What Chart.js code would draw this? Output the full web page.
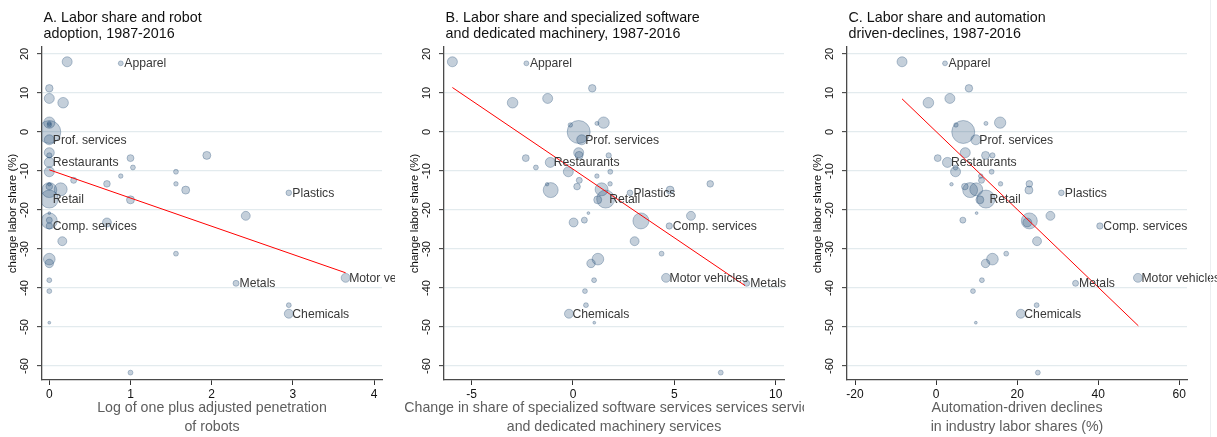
<!DOCTYPE html>
<html><head><meta charset="utf-8">
<script src="https://cdn.jsdelivr.net/npm/chart.js@4.4.1/dist/chart.umd.min.js"></script>
<style>
html,body{margin:0;padding:0;background:#fff;width:1217px;height:437px;overflow:hidden}
#wrap{position:relative;width:1217px;height:437px;background:#fff}
canvas{position:absolute;top:0}
#edge{position:absolute;left:1210px;top:0;width:1px;height:437px;background:#eceff1}
</style></head><body>
<div id="wrap">
<canvas id="cA" width="395" height="437" style="left:0px"></canvas>
<canvas id="cB" width="406" height="437" style="left:398px"></canvas>
<canvas id="cC" width="412" height="437" style="left:805px"></canvas>
<div id="edge"></div>
</div>
<script>
// ---------- DATA ----------
const industries = ["","Apparel","","","","","","","","Prof. services","","","","","Restaurants","","","","","","","","","","","","","Plastics","Retail","","","","","","","Comp. services","","","","","Motor vehicles","","Metals","","","Chemicals","",""];
// change in labor share (%), same for all panels
const laborShareChange = [18.0,17.6,11.2,8.6,7.5,2.4,2.2,1.8,0.0,-2.0,-5.3,-6.0,-6.0,-6.7,-7.8,-9.1,-10.2,-10.2,-11.3,-12.4,-14.0,-13.3,-13.3,-13.4,-14.9,-14.7,-14.9,-15.6,-17.2,-17.4,-20.8,-21.5,-22.8,-23.2,-22.6,-24.1,-28.0,-31.2,-32.6,-33.7,-37.4,-38.0,-38.8,-40.8,-44.4,-46.6,-48.9,-61.7];
// industry weights (bubble area)
const weights = [25,6,14,25,28,32,4,5,132,25,25,7,16,12,25,6,6,25,5,9,11,11,5,3,56,42,16,8,81,16,2,20,64,20,9,10,20,6,34,18,20,6,9,6,6,20,2,6];
// Panel A: log of one plus adjusted penetration of robots
const robotPenetration = [0.22,0.88,0,0,0.17,0,0,0,0,0,0,0,1.94,1.0,0,1.03,1.56,0,0.88,0.30,0,0.71,1.56,0,0,0.14,1.68,2.95,0,1.0,0,2.42,0,0.71,0,0,0.16,1.56,0,0,3.65,0,2.30,0,2.95,2.95,0,1.0];
// Panel B: change in share of specialized software and dedicated machinery services
const softwareMachinery = [-5.95,-2.30,0.95,-1.25,-2.98,1.51,1.18,-0.13,0.28,0.43,0.28,1.76,0.30,-2.33,-1.12,-1.83,1.84,-0.23,1.18,0.31,0.20,6.77,1.83,-1.28,-1.10,1.41,4.79,2.81,1.61,1.22,0.76,5.82,3.35,0.03,0.56,4.75,3.04,4.37,1.23,0.89,4.59,1.04,8.57,0.59,0.64,-0.20,1.05,7.29];
// Panel C: automation-driven declines in industry labor shares (%)
const automationDeclines = [-8.4,2.2,8.1,3.4,-1.9,15.8,12.3,4.9,6.7,9.8,7.2,13.9,12.2,0.4,2.8,4.8,13.7,4.8,11.0,11.2,7.1,23.0,15.9,3.8,8.4,9.9,22.9,30.9,12.3,10.8,10.0,28.2,23.0,22.5,6.6,40.4,24.9,17.3,13.9,12.2,49.8,11.3,34.4,9.1,24.8,20.9,9.8,25.1];
// fitted-line end points
const fitAx = [0, 3.65],   fitAy = [-9.7, -36.1];
const fitBx = [-5.95, 8.49], fitBy = [11.4, -39.4];
const fitCx = [-8.4, 49.9],  fitCy = [8.5, -49.7];
// tick labels
const yTicks  = [-60,-50,-40,-30,-20,-10,0,10,20];
const xTicksA = [0,1,2,3,4];
const xTicksB = [-5,0,5,10];
const xTicksC = [-20,0,20,40,60];
// texts
const yAxisTitle = "change labor share (%)";
const titleA = ["A. Labor share and robot","adoption, 1987-2016"];
const titleB = ["B. Labor share and specialized software","and dedicated machinery, 1987-2016"];
const titleC = ["C. Labor share and automation","driven-declines, 1987-2016"];
const xTitleA = ["Log of one plus adjusted penetration","of robots"];
const xTitleB = ["Change in share of specialized software services services services","and dedicated machinery services"];
const xTitleC = ["Automation-driven declines","in industry labor shares (%)"];

// ---------- RENDERING ----------
const FONT = '"Liberation Sans", Arial, Helvetica, sans-serif';

const panelText = {
  id: 'panelText',
  afterDraw(chart, args, opts) {
    const ctx = chart.ctx, ca = chart.chartArea;
    ctx.save();
    ctx.fillStyle = '#111';
    ctx.font = '14.3px ' + FONT;
    ctx.textAlign = 'left'; ctx.textBaseline = 'alphabetic';
    opts.title.forEach((t, i) => ctx.fillText(t, ca.left + 1.5, 22 + i * 15.6));
    ctx.fillStyle = '#5e5e5e';
    ctx.font = '14.2px ' + FONT;
    ctx.textAlign = 'center'; ctx.textBaseline = 'middle';
    const cx = (ca.left + ca.right) / 2;
    opts.xTitle.forEach((t, i) => ctx.fillText(t, cx, 408 + i * 18.6));
    ctx.restore();
  }
};

const markerLabels = {
  id: 'markerLabels',
  afterDatasetsDraw(chart) {
    const meta = chart.getDatasetMeta(1);
    const ctx = chart.ctx;
    ctx.save();
    ctx.font = '12.2px ' + FONT;
    ctx.fillStyle = '#383838';
    ctx.textAlign = 'left'; ctx.textBaseline = 'middle';
    industries.forEach((name, i) => {
      if (!name) return;
      const el = meta.data[i];
      ctx.fillText(name, el.x + 3.5, el.y + 0.5);
    });
    ctx.restore();
  }
};

function makePanel(id, xs, fx, fy, xTicks, xMin, xMax, pad, title, xTitle) {
  const bubbles = xs.map((x, i) => ({x: x, y: laborShareChange[i], r: Math.sqrt(weights[i])}));
  const fit = fx.map((x, i) => ({x: x, y: fy[i]}));
  new Chart(document.getElementById(id), {
    type: 'bubble',
    data: {
      datasets: [
        {type: 'line', data: fit, borderColor: '#ff0000', borderWidth: 1, pointRadius: 0, fill: false, order: 0},
        {type: 'bubble', data: bubbles, backgroundColor: 'rgba(26,71,111,0.26)', borderColor: 'rgba(26,71,111,0.38)', borderWidth: 0.8, order: 1}
      ]
    },
    options: {
      responsive: false, animation: false, devicePixelRatio: 1, events: [],
      layout: {padding: {left: pad.left, right: pad.right, top: 47, bottom: 0}},
      plugins: {legend: {display: false}, tooltip: {enabled: false}, title: {display: false},
        panelText: {title: title, xTitle: xTitle}},
      scales: {
        x: {
          type: 'linear', min: xMin, max: xMax,
          afterBuildTicks: s => { s.ticks = xTicks.map(v => ({value: v})); },
          afterFit: s => { s.height = 57; },
          ticks: {padding: 2, color: '#111', font: {size: 12, family: FONT}, maxRotation: 0, autoSkip: false, callback: v => String(v)},
          grid: {drawOnChartArea: false, drawTicks: true, tickLength: 5, tickColor: '#333', tickWidth: 1},
          border: {display: true, color: '#4a4a4a', width: 1.3}
        },
        y: {
          type: 'linear', min: -63.59, max: 21.79,
          afterBuildTicks: s => { s.ticks = yTicks.map(v => ({value: v})); },
          afterFit: s => { s.width = 42; },
          ticks: {minRotation: 90, maxRotation: 90, crossAlign: 'center', padding: 4, color: '#111', font: {size: 11, family: FONT}, autoSkip: false, callback: v => String(v)},
          grid: {color: '#e3ebee', lineWidth: 1.3, drawTicks: true, tickLength: 5, tickColor: '#333', tickWidth: 1},
          border: {display: true, color: '#4a4a4a', width: 1.3},
          title: {display: true, text: yAxisTitle, color: '#111', font: {size: 11.5, family: FONT}, padding: {top: 6, bottom: 0}}
        }
      }
    },
    plugins: [markerLabels, panelText]
  });
}

makePanel('cA', robotPenetration, fitAx, fitAy, xTicksA, -0.09, 4.098, {left: 0, right: 13}, titleA, xTitleA);
makePanel('cB', softwareMachinery, fitBx, fitBy, xTicksB, -6.364, 10.41, {left: 4, right: 20}, titleB, xTitleB);
makePanel('cC', automationDeclines, fitCx, fitCy, xTicksC, -21.98, 61.9, {left: 0, right: 30}, titleC, xTitleC);
</script>
</body></html>
